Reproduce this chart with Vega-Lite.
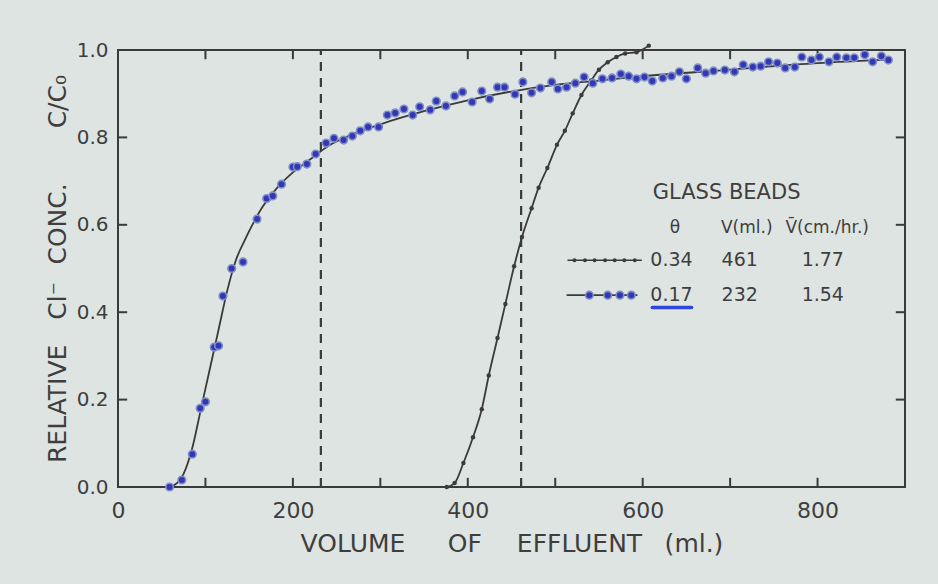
{
  "$schema": "https://vega.github.io/schema/vega-lite/v6.json",
  "width": 787,
  "height": 437,
  "autosize": {"type": "none"},
  "padding": {"left": 118, "top": 50, "right": 33, "bottom": 97},
  "background": "#dee4e2",
  "config": {
    "font": "DejaVu Sans",
    "view": {"stroke": "#3a3a3a", "strokeWidth": 2},
    "axis": {
      "domain": false,
      "grid": false,
      "ticks": false,
      "labelFont": "DejaVu Sans",
      "labelColor": "#3e3e3e",
      "labelFlush": false,
      "titleFont": "DejaVu Sans",
      "titleColor": "#3e3e3e",
      "titleFontWeight": "normal"
    }
  },
  "datasets": {
    "beads017": [
      {"v": 59, "c": 0}, {"v": 73, "c": 0.016}, {"v": 85, "c": 0.075}, {"v": 94, "c": 0.18},
      {"v": 100, "c": 0.195}, {"v": 110, "c": 0.32}, {"v": 115, "c": 0.323}, {"v": 120, "c": 0.437},
      {"v": 130, "c": 0.5}, {"v": 143, "c": 0.515}, {"v": 159, "c": 0.613}, {"v": 170, "c": 0.66},
      {"v": 177, "c": 0.666}, {"v": 187, "c": 0.693}, {"v": 200, "c": 0.732}, {"v": 205, "c": 0.733},
      {"v": 216, "c": 0.739}, {"v": 226, "c": 0.762}, {"v": 238, "c": 0.787}, {"v": 247, "c": 0.798},
      {"v": 258, "c": 0.794}, {"v": 268, "c": 0.803}, {"v": 277, "c": 0.815}, {"v": 286, "c": 0.824},
      {"v": 298, "c": 0.824}, {"v": 308, "c": 0.851}, {"v": 317, "c": 0.856}, {"v": 327, "c": 0.865},
      {"v": 337, "c": 0.851}, {"v": 345, "c": 0.87}, {"v": 357, "c": 0.863}, {"v": 364, "c": 0.883},
      {"v": 375, "c": 0.872}, {"v": 385, "c": 0.895}, {"v": 394, "c": 0.904}, {"v": 405, "c": 0.881},
      {"v": 416, "c": 0.906}, {"v": 425, "c": 0.888}, {"v": 434, "c": 0.915}, {"v": 442, "c": 0.915},
      {"v": 454, "c": 0.899}, {"v": 463, "c": 0.927}, {"v": 473, "c": 0.902}, {"v": 483, "c": 0.913},
      {"v": 496, "c": 0.927}, {"v": 503, "c": 0.911}, {"v": 513, "c": 0.915}, {"v": 523, "c": 0.924},
      {"v": 533, "c": 0.938}, {"v": 543, "c": 0.924}, {"v": 554, "c": 0.934}, {"v": 565, "c": 0.936},
      {"v": 575, "c": 0.945}, {"v": 584, "c": 0.94}, {"v": 593, "c": 0.934}, {"v": 602, "c": 0.938},
      {"v": 611, "c": 0.929}, {"v": 623, "c": 0.936}, {"v": 633, "c": 0.94}, {"v": 642, "c": 0.95},
      {"v": 650, "c": 0.934}, {"v": 663, "c": 0.959}, {"v": 672, "c": 0.947}, {"v": 681, "c": 0.952},
      {"v": 694, "c": 0.954}, {"v": 705, "c": 0.95}, {"v": 715, "c": 0.966}, {"v": 726, "c": 0.961},
      {"v": 735, "c": 0.963}, {"v": 744, "c": 0.973}, {"v": 754, "c": 0.97}, {"v": 763, "c": 0.959},
      {"v": 774, "c": 0.961}, {"v": 782, "c": 0.984}, {"v": 793, "c": 0.977}, {"v": 802, "c": 0.984},
      {"v": 813, "c": 0.973}, {"v": 822, "c": 0.984}, {"v": 833, "c": 0.982}, {"v": 842, "c": 0.982},
      {"v": 854, "c": 0.989}, {"v": 863, "c": 0.973}, {"v": 873, "c": 0.986}, {"v": 881, "c": 0.977}
    ],
    "curve017": [
      {"v": 58, "c": 0}, {"v": 65, "c": 0.005}, {"v": 75, "c": 0.03}, {"v": 85, "c": 0.09},
      {"v": 95, "c": 0.18}, {"v": 105, "c": 0.27}, {"v": 115, "c": 0.36}, {"v": 125, "c": 0.45},
      {"v": 135, "c": 0.52}, {"v": 145, "c": 0.565}, {"v": 155, "c": 0.605}, {"v": 165, "c": 0.64},
      {"v": 180, "c": 0.68}, {"v": 200, "c": 0.72}, {"v": 220, "c": 0.75}, {"v": 240, "c": 0.78},
      {"v": 260, "c": 0.8}, {"v": 300, "c": 0.83}, {"v": 350, "c": 0.86}, {"v": 400, "c": 0.885},
      {"v": 450, "c": 0.905}, {"v": 500, "c": 0.92}, {"v": 550, "c": 0.93}, {"v": 600, "c": 0.94},
      {"v": 700, "c": 0.955}, {"v": 800, "c": 0.97}, {"v": 880, "c": 0.978}
    ],
    "beads034": [
      {"v": 376, "c": 0}, {"v": 385, "c": 0.009}, {"v": 395, "c": 0.055}, {"v": 406, "c": 0.114},
      {"v": 416, "c": 0.178}, {"v": 424, "c": 0.255}, {"v": 434, "c": 0.341}, {"v": 443, "c": 0.419},
      {"v": 453, "c": 0.505}, {"v": 462, "c": 0.572}, {"v": 473, "c": 0.638}, {"v": 481, "c": 0.685},
      {"v": 491, "c": 0.73}, {"v": 502, "c": 0.783}, {"v": 511, "c": 0.815}, {"v": 520, "c": 0.855},
      {"v": 530, "c": 0.897}, {"v": 541, "c": 0.93}, {"v": 550, "c": 0.955}, {"v": 560, "c": 0.972},
      {"v": 570, "c": 0.984}, {"v": 580, "c": 0.992}, {"v": 593, "c": 0.995}, {"v": 607, "c": 1.01}
    ],
    "pore_volumes": [
      {"v": 232, "c": 0, "c2": 1},
      {"v": 461, "c": 0, "c2": 1}
    ],
    "frame_ticks": [
      {"v": 100, "v2": 100, "c": 0, "c2": 0.021}, {"v": 200, "v2": 200, "c": 0, "c2": 0.021},
      {"v": 300, "v2": 300, "c": 0, "c2": 0.021}, {"v": 400, "v2": 400, "c": 0, "c2": 0.021},
      {"v": 500, "v2": 500, "c": 0, "c2": 0.021}, {"v": 600, "v2": 600, "c": 0, "c2": 0.021},
      {"v": 700, "v2": 700, "c": 0, "c2": 0.021}, {"v": 800, "v2": 800, "c": 0, "c2": 0.021},
      {"v": 100, "v2": 100, "c": 1, "c2": 0.979}, {"v": 200, "v2": 200, "c": 1, "c2": 0.979},
      {"v": 300, "v2": 300, "c": 1, "c2": 0.979}, {"v": 400, "v2": 400, "c": 1, "c2": 0.979},
      {"v": 500, "v2": 500, "c": 1, "c2": 0.979}, {"v": 600, "v2": 600, "c": 1, "c2": 0.979},
      {"v": 700, "v2": 700, "c": 1, "c2": 0.979}, {"v": 800, "v2": 800, "c": 1, "c2": 0.979},
      {"v": 0, "v2": 10.5, "c": 0.2, "c2": 0.2}, {"v": 0, "v2": 10.5, "c": 0.4, "c2": 0.4},
      {"v": 0, "v2": 10.5, "c": 0.6, "c2": 0.6}, {"v": 0, "v2": 10.5, "c": 0.8, "c2": 0.8},
      {"v": 900, "v2": 889.5, "c": 0.2, "c2": 0.2}, {"v": 900, "v2": 889.5, "c": 0.4, "c2": 0.4},
      {"v": 900, "v2": 889.5, "c": 0.6, "c2": 0.6}, {"v": 900, "v2": 889.5, "c": 0.8, "c2": 0.8}
    ],
    "key_lines": [
      {"series": "0.34", "v": 514, "c": 0.519}, {"series": "0.34", "v": 599, "c": 0.519},
      {"series": "0.17", "v": 513, "c": 0.439}, {"series": "0.17", "v": 594, "c": 0.439}
    ],
    "key_dots034": [
      {"v": 522, "c": 0.519}, {"v": 534, "c": 0.519}, {"v": 545, "c": 0.519}, {"v": 557, "c": 0.519},
      {"v": 568, "c": 0.519}, {"v": 579, "c": 0.519}, {"v": 591, "c": 0.519}
    ],
    "key_dots017": [
      {"v": 539, "c": 0.439}, {"v": 560, "c": 0.439}, {"v": 574, "c": 0.439}, {"v": 587, "c": 0.439}
    ],
    "key_mark": [
      {"v": 611, "v2": 656, "c": 0.411}
    ],
    "key_title": [
      {"text": "GLASS BEADS", "v": 696, "c": 0.673}
    ],
    "key_header": [
      {"text": "θ", "v": 637, "c": 0.593},
      {"text": "V(ml.)", "v": 719, "c": 0.593},
      {"text": "V̄(cm./hr.)", "v": 811, "c": 0.593}
    ],
    "key_rows": [
      {"text": "0.34", "v": 633, "c": 0.519},
      {"text": "461", "v": 711, "c": 0.519},
      {"text": "1.77", "v": 806, "c": 0.519},
      {"text": "0.17", "v": 633, "c": 0.439},
      {"text": "232", "v": 711, "c": 0.439},
      {"text": "1.54", "v": 806, "c": 0.439}
    ]
  },
  "encoding": {
    "x": {
      "field": "v", "type": "quantitative",
      "scale": {"domain": [0, 900], "nice": false, "zero": false},
      "axis": {
        "orient": "bottom",
        "title": "VOLUME\u2003\u2002\u2009OF\u2003\u2009\u2009EFFLUENT\u2002\u2009\u2009(ml.)",
        "values": [0, 200, 400, 600, 800],
        "labelFontSize": 22,
        "labelPadding": 13,
        "titleFontSize": 25,
        "titlePadding": 10
      }
    },
    "y": {
      "field": "c", "type": "quantitative",
      "scale": {"domain": [0, 1], "nice": false, "zero": false},
      "axis": {
        "orient": "left",
        "title": "RELATIVE\u2003Cl⁻\u2002\u2009CONC.\u2003\u2003\u2009C/C₀",
        "values": [0, 0.2, 0.4, 0.6, 0.8, 1],
        "format": ".1f",
        "labelFontSize": 20,
        "labelPadding": 10,
        "titleFontSize": 25,
        "titlePadding": 6
      }
    }
  },
  "layer": [
    {
      "data": {"name": "pore_volumes"},
      "mark": {"type": "rule", "color": "#3a3a3a", "strokeWidth": 2.2, "strokeDash": [9, 7]},
      "encoding": {"y2": {"field": "c2"}}
    },
    {
      "data": {"name": "frame_ticks"},
      "mark": {"type": "rule", "color": "#3a3a3a", "strokeWidth": 2},
      "encoding": {
        "x2": {"field": "v2"},
        "y2": {"field": "c2"}
      }
    },
    {
      "data": {"name": "curve017"},
      "mark": {"type": "line", "color": "#3a3a3a", "strokeWidth": 1.8, "interpolate": "monotone"}
    },
    {
      "data": {"name": "beads034"},
      "mark": {"type": "line", "color": "#3a3a3a", "strokeWidth": 1.8, "interpolate": "monotone"}
    },
    {
      "data": {"name": "beads034"},
      "mark": {"type": "point", "filled": true, "shape": "circle", "size": 20, "color": "#3c3c3c", "opacity": 1}
    },
    {
      "data": {"name": "beads017"},
      "mark": {"type": "point", "filled": true, "shape": "circle", "size": 58, "fill": "#3436b8", "stroke": "#7f8fc4", "strokeWidth": 1.6, "opacity": 1, "fillOpacity": 1}
    },
    {
      "data": {"name": "key_lines"},
      "mark": {"type": "line", "color": "#3a3a3a", "strokeWidth": 1.6},
      "encoding": {"detail": {"field": "series"}}
    },
    {
      "data": {"name": "key_dots034"},
      "mark": {"type": "point", "filled": true, "shape": "circle", "size": 16, "color": "#3c3c3c", "opacity": 1}
    },
    {
      "data": {"name": "key_dots017"},
      "mark": {"type": "point", "filled": true, "shape": "circle", "size": 58, "fill": "#3436b8", "stroke": "#7f8fc4", "strokeWidth": 1.6, "opacity": 1, "fillOpacity": 1}
    },
    {
      "data": {"name": "key_mark"},
      "mark": {"type": "rule", "color": "#2f45e0", "strokeWidth": 3.5, "strokeCap": "round"},
      "encoding": {"x2": {"field": "v2"}}
    },
    {
      "data": {"name": "key_title"},
      "mark": {"type": "text", "fontSize": 21, "align": "center", "baseline": "middle", "color": "#3e3e3e"},
      "encoding": {"text": {"field": "text"}}
    },
    {
      "data": {"name": "key_header"},
      "mark": {"type": "text", "fontSize": 17, "align": "center", "baseline": "middle", "color": "#3e3e3e"},
      "encoding": {"text": {"field": "text"}}
    },
    {
      "data": {"name": "key_rows"},
      "mark": {"type": "text", "fontSize": 19, "align": "center", "baseline": "middle", "color": "#3e3e3e"},
      "encoding": {"text": {"field": "text"}}
    }
  ]
}
